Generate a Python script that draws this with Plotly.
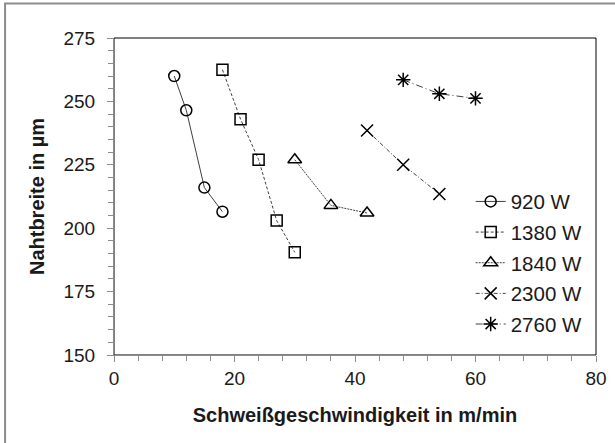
import plotly.graph_objects as go

# Data
series_names = ["920 W", "1380 W", "1840 W", "2300 W", "2760 W"]
x_920 = [10, 12, 15, 18]
y_920 = [260, 246.5, 216, 206.5]
x_1380 = [18, 21, 24, 27, 30]
y_1380 = [262.5, 243, 227, 203, 190.5]
x_1840 = [30, 36, 42]
y_1840 = [227, 209, 206]
x_2300 = [42, 48, 54]
y_2300 = [238.5, 225, 213.5]
x_2760 = [48, 54, 60]
y_2760 = [258.5, 253, 251.2]

xs = [x_920, x_1380, x_1840, x_2300, x_2760]
ys = [y_920, y_1380, y_1840, y_2300, y_2760]
symbols = ["circle-open", "square-open", "triangle-up-open", "x-thin-open", "asterisk-open"]
dashes = ["solid", "3px,2px", "2px,1px", "4px,2px,1px,2px", "7px,3px,1px,3px"]
msizes = [11, 11, 12, 12, 12]

FONT = "Liberation Sans, Arial, sans-serif"

fig = go.Figure()
for i, name in enumerate(series_names):
    fig.add_trace(go.Scatter(
        x=xs[i], y=ys[i], name=name, mode="lines+markers",
        legendgroup=name,
        line=dict(color="#404040", width=1, dash=dashes[i]),
        marker=dict(symbol=symbols[i], size=msizes[i], color="#000000",
                    line=dict(color="#000000", width=1.5)),
    ))

# plot-area frame (top and right lines are black)
fig.add_shape(type="rect", xref="paper", yref="paper", x0=0, y0=0, x1=1, y1=1,
              line=dict(color="#000000", width=1), layer="below")
# outer chart border (gray)
fig.add_shape(type="rect", xref="paper", yref="paper",
              x0=-0.226, y0=-0.3, x1=1.05, y1=1.109,
              line=dict(color="#8c8c8c", width=2), layer="below")

fig.update_layout(
    width=615, height=443,
    margin=dict(l=114, r=19, t=37.5, b=87.5),
    paper_bgcolor="white", plot_bgcolor="white",
    font=dict(family=FONT, size=18, color="#1a1a1a"),
    showlegend=True,
    legend=dict(x=0.74, y=0.547, xanchor="left", yanchor="top",
                bgcolor="rgba(0,0,0,0)", font=dict(size=20.5, color="#1a1a1a"),
                tracegroupgap=1, itemwidth=30),
)
fig.update_xaxes(
    range=[0, 80], dtick=20, tick0=0, showgrid=False, zeroline=False,
    showline=True, linecolor="#8c8c8c", linewidth=1, automargin=False,
    ticks="outside", ticklen=6, tickcolor="#8c8c8c",
    minor=dict(dtick=4, ticks="outside", ticklen=5, tickcolor="#8c8c8c", showgrid=False),
    tickfont=dict(size=19),
    title=dict(text="<b>Schweißgeschwindigkeit in m/min</b>", font=dict(size=20), standoff=20),
)
fig.update_yaxes(
    range=[150, 275], dtick=25, tick0=150, showgrid=False, zeroline=False,
    showline=True, linecolor="#8c8c8c", linewidth=1, automargin=False,
    ticks="outside", ticklen=6, tickcolor="#8c8c8c",
    minor=dict(dtick=5, ticks="outside", ticklen=5, tickcolor="#8c8c8c", showgrid=False),
    tickfont=dict(size=19), ticklabelstandoff=8,
    title=dict(text="<b>Nahtbreite in µm</b>", font=dict(size=20), standoff=13),
)

fig.write_html("out.html", config={"displayModeBar": False},
               post_script="document.body.style.margin='0';")
